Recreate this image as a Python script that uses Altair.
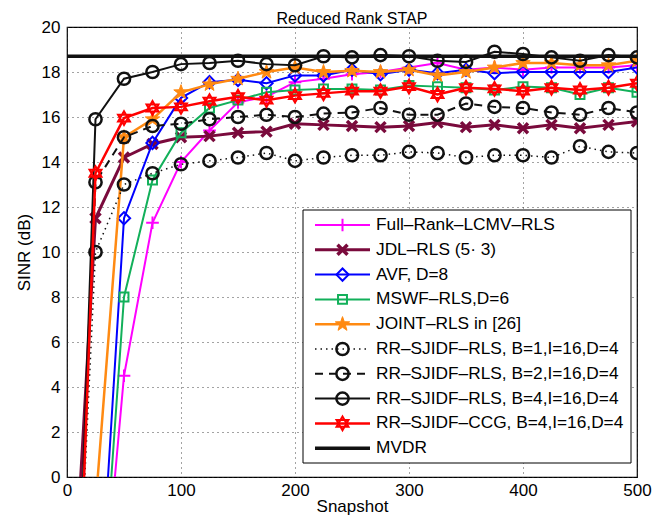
import altair as alt
import pandas as pd
import numpy as np

# ---------------- data ----------------
snapshots = [10, 25, 50, 75, 100, 125, 150, 175, 200, 225, 250, 275, 300,
             325, 350, 375, 400, 425, 450, 475, 500]

full_rank = [-25, -9.6, 4.5, 11.3, 14.0, 15.4, 16.65, 16.9, 17.55, 17.7, 17.9,
             18.0, 18.2, 18.4, 18.1, 18.2, 18.1, 18.2, 18.2, 18.2, 18.3]
jdl = [-1.8, 11.5, 14.2, 14.8, 15.1, 15.15, 15.3, 15.35, 15.7, 15.65, 15.6,
       15.55, 15.6, 15.75, 15.55, 15.65, 15.5, 15.65, 15.5, 15.65, 15.8]
avf = [-25, -9.0, 11.5, 14.85, 16.85, 17.55, 17.65, 17.5, 17.85, 17.85, 18.1,
       17.9, 18.1, 17.95, 18.1, 17.95, 18.0, 18.0, 18.0, 18.0, 18.2]
mswf = [-25, -10.0, 8.0, 13.2, 15.3, 16.4, 16.75, 17.1, 17.2, 17.25, 17.25,
        17.2, 17.4, 17.35, 17.3, 17.2, 17.35, 17.3, 17.0, 17.3, 17.1]
joint = [-15, -1.3, 15.1, 15.9, 17.1, 17.45, 17.7, 18.0, 18.2, 18.0, 18.05,
         18.0, 18.1, 17.85, 18.0, 18.2, 18.4, 18.4, 18.3, 18.3, 18.5]
rr_b1 = [-6, 10.0, 13.0, 13.5, 13.9, 14.05, 14.2, 14.4, 14.05, 14.2, 14.3,
         14.3, 14.45, 14.4, 14.2, 14.3, 14.3, 14.2, 14.7, 14.45, 14.4]
rr_b2 = [-6, 13.1, 15.1, 15.6, 15.7, 15.9, 16.0, 16.1, 16.0, 16.15, 16.2,
         16.4, 16.1, 16.1, 16.6, 16.45, 16.4, 16.2, 16.1, 16.4, 16.2]
rr_b4 = [-6, 15.9, 17.7, 18.0, 18.35, 18.4, 18.5, 18.35, 18.3, 18.7, 18.65,
         18.75, 18.7, 18.5, 18.45, 18.9, 18.8, 18.65, 18.5, 18.75, 18.65]
rr_ccg = [-6.75, 13.5, 15.95, 16.4, 16.45, 16.7, 16.9, 16.75, 16.95, 17.05, 17.15,
          17.15, 17.35, 17.0, 17.3, 17.25, 17.15, 17.3, 17.2, 17.3, 17.5]
mvdr_x = [0, 500]
mvdr = [18.7, 18.7]

names = ["Full\u2013Rank\u2013LCMV\u2013RLS",
         "JDL\u2013RLS (5\u00b7 3)",
         "AVF, D=8",
         "MSWF\u2013RLS,D=6",
         "JOINT\u2013RLS in [26]",
         "RR\u2013SJIDF\u2013RLS, B=1,I=16,D=4",
         "RR\u2013SJIDF\u2013RLS, B=2,I=16,D=4",
         "RR\u2013SJIDF\u2013RLS, B=4,I=16,D=4",
         "RR\u2013SJIDF\u2013CCG, B=4,I=16,D=4",
         "MVDR"]

x_ticks = [0, 100, 200, 300, 400, 500]
y_ticks = [0, 2, 4, 6, 8, 10, 12, 14, 16, 18, 20]

# ---------------- styles ----------------
def star_path(n=5, r_in=0.4):
    pts = []
    for k in range(2 * n):
        r = 1.0 if k % 2 == 0 else r_in
        a = -np.pi / 2 + k * np.pi / n
        pts.append(f"{r*np.cos(a):.3f},{r*np.sin(a):.3f}")
    return "M" + "L".join(pts) + "Z"

PLUS = "M-1,0L1,0M0,-1L0,1"
XMARK = "M-1,-1L1,1M-1,1L1,-1"
HEXAGRAM = "M0,-1L0.866,0.5L-0.866,0.5Z M0,1L0.866,-0.5L-0.866,-0.5Z"
STAR = star_path()

styles = [
    dict(color="#FF00FF", dash=None, width=2, shape=PLUS, size=160, filled=False, sw=2),
    dict(color="#7A0A3C", dash=None, width=3, shape=XMARK, size=100, filled=False, sw=3.5),
    dict(color="#0000FF", dash=None, width=2, shape="diamond", size=150, filled=False, sw=2),
    dict(color="#12B05A", dash=None, width=2, shape="square", size=80, filled=False, sw=2),
    dict(color="#FF8A12", dash=None, width=2.5, shape=STAR, size=230, filled=True, sw=1),
    dict(color="#111111", dash=[1.5, 4], width=1.5, shape="circle", size=150, filled=False, sw=2.5),
    dict(color="#111111", dash=[8, 6], width=2, shape="circle", size=150, filled=False, sw=2.5),
    dict(color="#111111", dash=None, width=2, shape="circle", size=150, filled=False, sw=2.5),
    dict(color="#FF0000", dash=None, width=2.5, shape=HEXAGRAM, size=190, filled=False, sw=2),
    dict(color="#111111", dash=None, width=3.5, shape=None, size=0, filled=False, sw=0),
]

series_vals = [full_rank, jdl, avf, mswf, joint, rr_b1, rr_b2, rr_b4, rr_ccg]

FONT = "Liberation Sans"
xscale = alt.Scale(domain=[0, 500], nice=False, zero=False)
yscale = alt.Scale(domain=[0, 20], nice=False, zero=False)
xaxis = alt.Axis(values=x_ticks, title="Snapshot", grid=True, ticks=False,
                 domain=False, labelPadding=5, titlePadding=0, format="d",
                 labelFlush=False)
yaxis = alt.Axis(values=y_ticks, title="SINR (dB)", grid=True, ticks=False,
                 domain=False, labelPadding=7, titlePadding=8, format="d")


def line_kwargs(st):
    kw = dict(color=st["color"], strokeWidth=st["width"], clip=True)
    if st["dash"] is not None:
        kw["strokeDash"] = st["dash"]
    return kw


def point_kwargs(st):
    kw = dict(shape=st["shape"], size=st["size"], filled=st["filled"],
              color=st["color"], strokeWidth=st["sw"], opacity=1, clip=True)
    if st["filled"]:
        kw["stroke"] = st["color"]
    return kw


layers = []
for name, vals, st in zip(names[:9], series_vals, styles[:9]):
    df = pd.DataFrame({"snapshot": snapshots, "sinr": vals, "series": name})
    base = alt.Chart(df).encode(
        x=alt.X("snapshot:Q", scale=xscale, axis=xaxis),
        y=alt.Y("sinr:Q", scale=yscale, axis=yaxis),
    )
    layers.append(base.mark_line(**line_kwargs(st)))
    layers.append(base.transform_filter(alt.datum.snapshot >= 25)
                  .mark_point(**point_kwargs(st)))

mv_df = pd.DataFrame({"snapshot": mvdr_x, "sinr": mvdr})
layers.append(alt.Chart(mv_df).mark_line(**line_kwargs(styles[9])).encode(
    x=alt.X("snapshot:Q", scale=xscale, axis=xaxis),
    y=alt.Y("sinr:Q", scale=yscale, axis=yaxis)))

# ---------------- legend (manual, in plot pixel space) ----------------
LX0, LX1, LY0, LY1 = 236, 564, 183, 436
box = alt.Chart(pd.DataFrame({"k": [0]})).mark_rect(
    fill="white", stroke="black", strokeWidth=1).encode(
    x=alt.value(LX0), x2=alt.value(LX1), y=alt.value(LY0), y2=alt.value(LY1))
layers.append(box)

row0, step = 198, 24.8
for i, (name, st) in enumerate(zip(names, styles)):
    ly = row0 + i * step
    one = alt.Chart(pd.DataFrame({"name": [name]}))
    rk = dict(color=st["color"], strokeWidth=st["width"])
    if st["dash"] is not None:
        rk["strokeDash"] = st["dash"]
    layers.append(one.mark_rule(**rk).encode(
        x=alt.value(248), x2=alt.value(303), y=alt.value(ly)))
    if st["shape"] is not None:
        pk = point_kwargs(st)
        pk.pop("clip")
        layers.append(one.mark_point(**pk).encode(x=alt.value(275.5), y=alt.value(ly)))
    layers.append(one.mark_text(align="left", baseline="middle", font=FONT,
                                fontSize=17.3, color="black").encode(
        x=alt.value(309), y=alt.value(ly), text="name:N"))

chart = alt.layer(*layers).properties(
    width=570, height=450,
    background="white",
    title=alt.TitleParams("Reduced Rank STAP", fontSize=16, fontWeight="normal",
                          font=FONT, offset=1, dy=10, anchor="middle", color="black"),
    autosize=alt.AutoSizeParams(type="none"),
    padding={"left": 59, "top": 19, "right": 17, "bottom": 45},
).configure_view(stroke="black", strokeWidth=1.2).configure_axis(
    labelFont=FONT, titleFont=FONT, labelFontSize=17, titleFontSize=17,
    labelColor="black", titleColor="black", titleFontWeight="normal",
    gridColor="#333333", gridDash=[1, 4], gridWidth=1, gridOpacity=0.9,
)

chart.save("out.html", embed_options={"renderer": "svg", "actions": False})
